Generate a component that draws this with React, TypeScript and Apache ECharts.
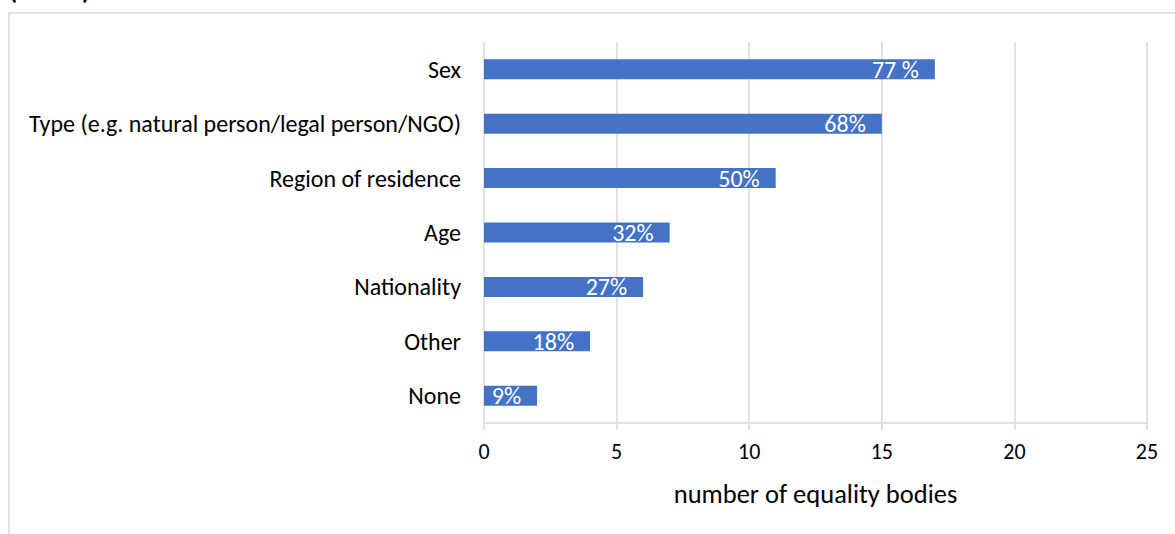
import React, { useEffect, useRef } from "react";
import * as echarts from "echarts";

const categories = [
  "Sex",
  "Type (e.g. natural person/legal person/NGO)",
  "Region of residence",
  "Age",
  "Nationality",
  "Other",
  "None",
];
const values = [17, 15, 11, 7, 6, 4, 2];
const percentLabels = ["77 %", "68%", "50%", "32%", "27%", "18%", "9%"];
const xTicks = [0, 5, 10, 15, 20, 25];
const xAxisName = "number of equality bodies";
const headerText = "(n = 22)";

const FONT = "Carlito, Calibri, 'Open Sans', 'Noto Sans', sans-serif";

export default function App() {
  const ref = useRef<HTMLDivElement>(null);
  useEffect(() => {
    if (!ref.current) return;
    const chart = echarts.init(ref.current, undefined, { renderer: "svg" });
    chart.setOption({
      animation: false,
      textStyle: { fontFamily: FONT },
      graphic: [
        {
          type: "rect",
          shape: { x: 9, y: 13, width: 1200, height: 560 },
          style: { fill: "none", stroke: "#d9d9d9", lineWidth: 1.5 },
          silent: true,
        },
        {
          type: "text",
          x: 9,
          y: -10.5,
          style: {
            text: headerText,
            font: "bold 26px " + FONT,
            fill: "#000",
            verticalAlign: "middle",
            align: "left",
          },
        },
      ],
      grid: { left: 484, right: 28, top: 42, bottom: 111, containLabel: false },
      xAxis: {
        type: "value",
        min: xTicks[0],
        max: xTicks[xTicks.length - 1],
        interval: xTicks[1] - xTicks[0],
        name: xAxisName,
        nameLocation: "middle",
        nameGap: 57,
        nameTextStyle: { fontSize: 26.5, color: "#000", fontFamily: FONT },
        axisLine: { show: true, lineStyle: { color: "#d9d9d9", width: 1.5 } },
        axisTick: { show: true, length: 7, lineStyle: { color: "#d9d9d9", width: 1.5 } },
        axisLabel: { fontSize: 22, color: "#000", margin: 17, fontFamily: FONT },
        splitLine: { show: true, lineStyle: { color: "#d9d9d9", width: 1.5 } },
      },
      yAxis: {
        type: "category",
        inverse: true,
        data: categories,
        axisLine: { show: false },
        axisTick: { show: false },
        axisLabel: { fontSize: 24, color: "#000", margin: 23, fontFamily: FONT },
        splitLine: { show: false },
      },
      series: [
        {
          type: "bar",
          data: values,
          barWidth: 20,
          itemStyle: { color: "#4472C4" },
          label: {
            show: true,
            position: "insideRight",
            distance: 16,
            color: "#fff",
            fontSize: 24,
            fontFamily: FONT,
            formatter: (p: any) => percentLabels[p.dataIndex],
          },
        },
      ],
    });
    return () => chart.dispose();
  }, []);
  return (
    <div
      ref={ref}
      style={{ position: "fixed", left: 0, top: 0, width: 1175, height: 534, background: "#fff" }}
    />
  );
}
